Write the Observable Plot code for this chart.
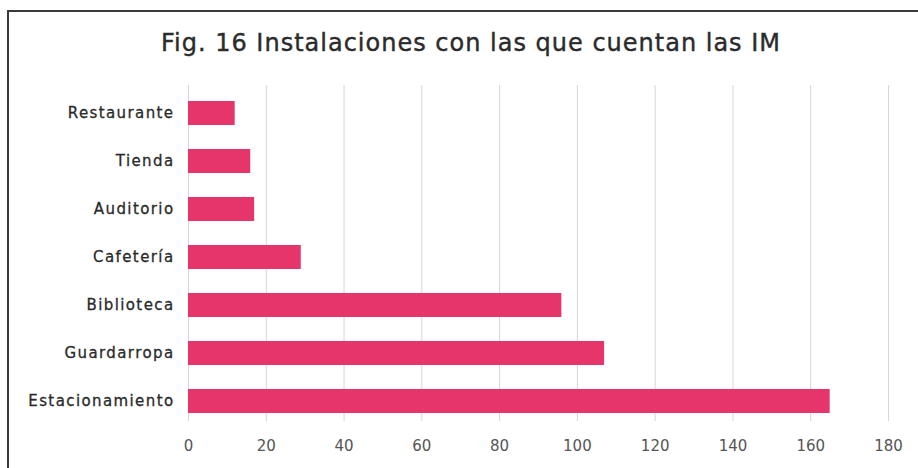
<!DOCTYPE html>
<html>
<head>
<meta charset="utf-8">
<script src="https://cdn.jsdelivr.net/npm/d3@7"></script>
<script src="https://cdn.jsdelivr.net/npm/@observablehq/plot@0.6"></script>
<style>
  html, body { margin: 0; padding: 0; background: #fff; width: 918px; height: 468px; overflow: hidden; }
  #frame { position: absolute; left: 7px; top: 10px; width: 920px; height: 470px; border: 2px solid #3a3a3a; box-sizing: border-box; background: #fff; }
  #title { width: 906px; height: 64px; line-height: 62px; text-align: center; padding-left: 18px; box-sizing: border-box; font-family: "DejaVu Sans", sans-serif; font-size: 24px; letter-spacing: 1px; color: #2b2b2b; -webkit-text-stroke: 0.4px #2b2b2b; }
  #chart svg { display: block; }
  #chart g[aria-label="y-axis tick label"] text { letter-spacing: 1.4px; stroke: #2a2a2a; stroke-width: 0.3px; }
</style>
</head>
<body>
<div id="frame">
  <div id="title">Fig. 16 Instalaciones con las que cuentan las IM</div>
  <div id="chart"></div>
</div>
<script>
const categories = ["Restaurante", "Tienda", "Auditorio", "Cafetería", "Biblioteca", "Guardarropa", "Estacionamiento"];
const values = [12, 16, 17, 29, 96, 107, 165];
const xTicks = [0, 20, 40, 60, 80, 100, 120, 140, 160, 180];

const data = categories.map((c, i) => ({category: c, value: values[i]}));

const W = 902, H = 394;
const chart = Plot.plot({
  width: W,
  height: H,
  marginLeft: 179,
  marginRight: 23,
  marginTop: 9,
  marginBottom: 49,
  style: {fontFamily: "'DejaVu Sans', sans-serif", background: "transparent"},
  x: {domain: [0, 180], ticks: xTicks},
  y: {domain: categories, range: [22, 339], paddingInner: 0.5, paddingOuter: 0},
  marks: [
    Plot.gridX(xTicks, {stroke: "#d6d6d6", strokeOpacity: 1, strokeWidth: 1}),
    Plot.barX(data, {x: "value", y: "category", fill: "#e6356b"}),
    Plot.axisX(xTicks, {tickSize: 0, tickPadding: 19, fontSize: 15, fill: "#555", label: null}),
    Plot.axisY({tickSize: 0, tickPadding: 14, fontSize: 15, fill: "#2a2a2a", label: null})
  ]
});
document.getElementById("chart").appendChild(chart);
</script>
</body>
</html>
